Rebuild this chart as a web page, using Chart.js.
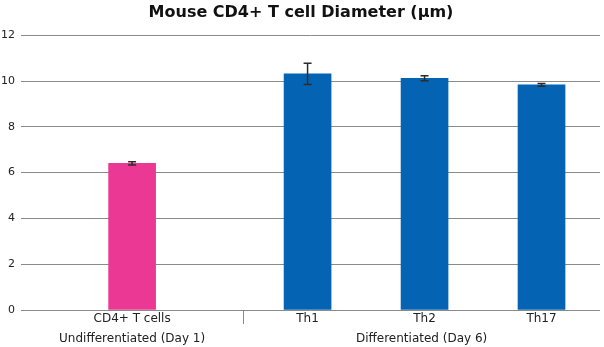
<!DOCTYPE html>
<html lang="en">
<head>
  <meta charset="UTF-8">
  <title>Mouse CD4+ T cell Diameter</title>
  <script src="https://cdn.jsdelivr.net/npm/chart.js"></script>
  <style>
    * { margin: 0; padding: 0; box-sizing: border-box; }
    body { background: #fff; }
    .wrap { width: 604px; height: 347px; position: relative; }
  </style>
</head>
<body>
  <div class="wrap">
    <canvas id="cellChart"></canvas>
  </div>

  <script>
    // data
    const labels = ['CD4+ T cells', 'Th1', 'Th2', 'Th17'];
    const slots = [1, 2.5, 3.5, 4.5];            // category slot on the x scale
    const diameter = [6.4, 10.31, 10.12, 9.83];
    const errors = [0.07, 0.46, 0.11, 0.06];
    const barColors = ['#ec3895', '#0563b3', '#0563b3', '#0563b3'];
    const groups = ['Undifferentiated (Day 1)', 'Differentiated (Day 6)'];
    const groupBounds = [[0.05, 1.95], [1.95, 5]];
    const yTicks = [0, 2, 4, 6, 8, 10, 12];

    const font = "'DejaVu Sans', Verdana, sans-serif";

    // error bars, drawn through the y scale
    const errorBars = {
      id: 'errorBars',
      afterDatasetsDraw(chart) {
        const ctx = chart.ctx;
        const y = chart.scales.y;
        const meta = chart.getDatasetMeta(0);
        ctx.save();
        ctx.strokeStyle = '#2b2b2b';
        ctx.lineWidth = 1.5;
        meta.data.forEach((bar, i) => {
          const top = y.getPixelForValue(diameter[i] + errors[i]);
          const bot = y.getPixelForValue(diameter[i] - errors[i]);
          ctx.beginPath();
          ctx.moveTo(bar.x, top); ctx.lineTo(bar.x, bot);
          ctx.moveTo(bar.x - 4, top); ctx.lineTo(bar.x + 4, top);
          ctx.moveTo(bar.x - 4, bot); ctx.lineTo(bar.x + 4, bot);
          ctx.stroke();
        });
        ctx.restore();
      }
    };

    // second row of category labels + divider tick
    const groupAxis = {
      id: 'groupAxis',
      afterDraw(chart) {
        const ctx = chart.ctx;
        const x = chart.scales.x;
        const base = chart.chartArea.bottom;
        ctx.save();
        ctx.fillStyle = '#222';
        ctx.font = '12px ' + font;
        ctx.textAlign = 'center';
        ctx.textBaseline = 'middle';
        groups.forEach((g, i) => {
          const mid = (groupBounds[i][0] + groupBounds[i][1]) / 2;
          ctx.fillText(g, x.getPixelForValue(mid), base + 29);
        });
        const sep = Math.round(x.getPixelForValue(groupBounds[1][0])) + 0.5;
        ctx.strokeStyle = '#8a8a8a';
        ctx.lineWidth = 1;
        ctx.beginPath();
        ctx.moveTo(sep, base);
        ctx.lineTo(sep, base + 14);
        ctx.stroke();
        ctx.restore();
      }
    };

    const ctx = document.getElementById('cellChart').getContext('2d');
    new Chart(ctx, {
      type: 'bar',
      data: {
        datasets: [{
          data: slots.map((s, i) => ({ x: s, y: diameter[i] })),
          backgroundColor: barColors,
          barThickness: 47
        }]
      },
      options: {
        responsive: true,
        maintainAspectRatio: false,
        animation: false,
        layout: { padding: { right: 4, top: 0, bottom: 0, left: 2 } },
        plugins: {
          legend: { display: false },
          tooltip: { enabled: false },
          title: {
            display: true,
            text: 'Mouse CD4+ T cell Diameter (\u00b5m)',
            color: '#111',
            font: { family: font, size: 16, weight: 'bold' },
            padding: { top: 3, bottom: 13 }
          }
        },
        scales: {
          x: {
            type: 'linear',
            min: 0.05,
            max: 5,
            offset: false,
            grid: { display: false, offset: false, drawTicks: false, tickLength: 0 },
            border: { display: false },
            afterBuildTicks(scale) {
              scale.ticks = slots.map(v => ({ value: v }));
            },
            afterFit(scale) { scale.height = 37; },
            ticks: {
              autoSkip: false,
              maxRotation: 0,
              padding: 2,
              color: '#222',
              font: { family: font, size: 12 },
              callback(v) {
                const i = slots.indexOf(v);
                return i >= 0 ? labels[i] : '';
              }
            }
          },
          y: {
            min: 0,
            max: 12,
            afterBuildTicks(scale) {
              scale.ticks = yTicks.map(v => ({ value: v }));
            },
            afterFit(scale) { scale.width = 19; },
            grid: { color: '#8a8a8a', drawTicks: false },
            border: { display: false },
            ticks: {
              padding: 6,
              color: '#222',
              font: { family: font, size: 11 }
            }
          }
        }
      },
      plugins: [errorBars, groupAxis]
    });
  </script>
</body>
</html>
